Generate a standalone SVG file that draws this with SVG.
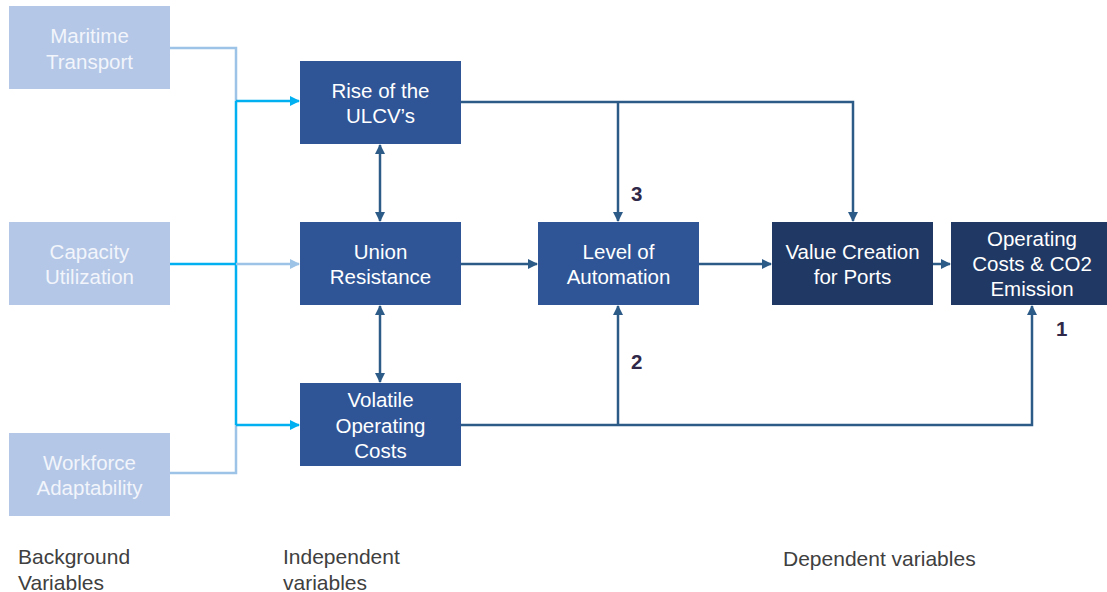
<svg xmlns="http://www.w3.org/2000/svg" width="1107" height="592" viewBox="0 0 1107 592">
<style>
.bg{fill:#b4c7e7}
.ind{fill:#2f5597}
.dep{fill:#203864}
.t{font-family:"Liberation Sans",Arial,sans-serif;font-size:20.5px;text-anchor:middle}
.tb{fill:#f2f5fb}
.tw{fill:#ffffff}
.lab{font-family:"Liberation Sans",Arial,sans-serif;font-size:21px;fill:#404040}
.num{font-family:"Liberation Sans",Arial,sans-serif;font-size:20.5px;font-weight:bold;fill:#2f2848}
.c{fill:none;stroke:#2c5b88;stroke-width:2.5}
.cy{fill:none;stroke:#00b0f0;stroke-width:2.5}
.lt{fill:none;stroke:#9dc3e6;stroke-width:2.5}
</style>
<defs>
<marker id="ad" viewBox="0 0 10 10" refX="9" refY="5" markerWidth="4" markerHeight="4" orient="auto-start-reverse" markerUnits="strokeWidth"><path d="M0,0 L10,5 L0,10 z" fill="#2c5b88"/></marker>
<marker id="ac" viewBox="0 0 10 10" refX="9" refY="5" markerWidth="4" markerHeight="4" orient="auto" markerUnits="strokeWidth"><path d="M0,0 L10,5 L0,10 z" fill="#00b0f0"/></marker>
<marker id="al" viewBox="0 0 10 10" refX="9" refY="5" markerWidth="4" markerHeight="4" orient="auto" markerUnits="strokeWidth"><path d="M0,0 L10,5 L0,10 z" fill="#9dc3e6"/></marker>
</defs>
<g id="connectors">
<path class="lt" d="M170,48 H236 V101"/>
<path class="lt" d="M170,473 H236 V425"/>
<path class="cy" d="M236,101 V425"/>
<path class="cy" d="M236,101 H299" marker-end="url(#ac)"/>
<path class="cy" d="M236,425 H299" marker-end="url(#ac)"/>
<path class="cy" d="M170,264 H236"/>
<path class="lt" d="M236,264 H299" marker-end="url(#al)"/>
<path class="c" d="M380,145 V221" marker-start="url(#ad)" marker-end="url(#ad)"/>
<path class="c" d="M380,306 V382" marker-start="url(#ad)" marker-end="url(#ad)"/>
<path class="c" d="M461,102 H853 V221" marker-end="url(#ad)"/>
<path class="c" d="M618,102 V221" marker-end="url(#ad)"/>
<path class="c" d="M461,264 H537" marker-end="url(#ad)"/>
<path class="c" d="M699,264 H771" marker-end="url(#ad)"/>
<path class="c" d="M933,264 H950" marker-end="url(#ad)"/>
<path class="c" d="M461,425 H1032 V306" marker-end="url(#ad)"/>
<path class="c" d="M618,425 V306" marker-end="url(#ad)"/>
</g>
<g id="maritime"><rect class="bg" x="9" y="6" width="161" height="83"/><text class="t tb" x="89.5" y="43">Maritime</text><text class="t tb" x="89.5" y="69">Transport</text></g>
<g id="capacity"><rect class="bg" x="9" y="222" width="161" height="83"/><text class="t tb" x="89.5" y="259">Capacity</text><text class="t tb" x="89.5" y="284">Utilization</text></g>
<g id="workforce"><rect class="bg" x="9" y="433" width="161" height="83"/><text class="t tb" x="89.5" y="470">Workforce</text><text class="t tb" x="89.5" y="495">Adaptability</text></g>
<g id="rise"><rect class="ind" x="300" y="61" width="161" height="83"/><text class="t tw" x="380.5" y="98">Rise of the</text><text class="t tw" x="380.5" y="123">ULCV’s</text></g>
<g id="union"><rect class="ind" x="300" y="222" width="161" height="83"/><text class="t tw" x="380.5" y="259">Union</text><text class="t tw" x="380.5" y="284">Resistance</text></g>
<g id="volatile"><rect class="ind" x="300" y="383" width="161" height="83"/><text class="t tw" x="380.5" y="407">Volatile</text><text class="t tw" x="380.5" y="433">Operating</text><text class="t tw" x="380.5" y="458">Costs</text></g>
<g id="automation"><rect class="ind" x="538" y="222" width="161" height="83"/><text class="t tw" x="618.5" y="259">Level of</text><text class="t tw" x="618.5" y="284">Automation</text></g>
<g id="value"><rect class="dep" x="772" y="222" width="161" height="83"/><text class="t tw" x="852.5" y="259">Value Creation</text><text class="t tw" x="852.5" y="284">for Ports</text></g>
<g id="operating"><rect class="dep" x="951" y="222" width="156" height="83"/><text class="t tw" x="1032" y="246">Operating</text><text class="t tw" x="1032" y="271">Costs &amp; CO2</text><text class="t tw" x="1032" y="296">Emission</text></g>
<g id="labels">
<text class="num" x="631" y="201">3</text>
<text class="num" x="631" y="369">2</text>
<text class="num" x="1056" y="336">1</text>
<text class="lab" x="18" y="564">Background</text>
<text class="lab" x="18" y="590">Variables</text>
<text class="lab" x="283" y="564">Independent</text>
<text class="lab" x="283" y="590">variables</text>
<text class="lab" x="783" y="566">Dependent variables</text>
</g>
</svg>
